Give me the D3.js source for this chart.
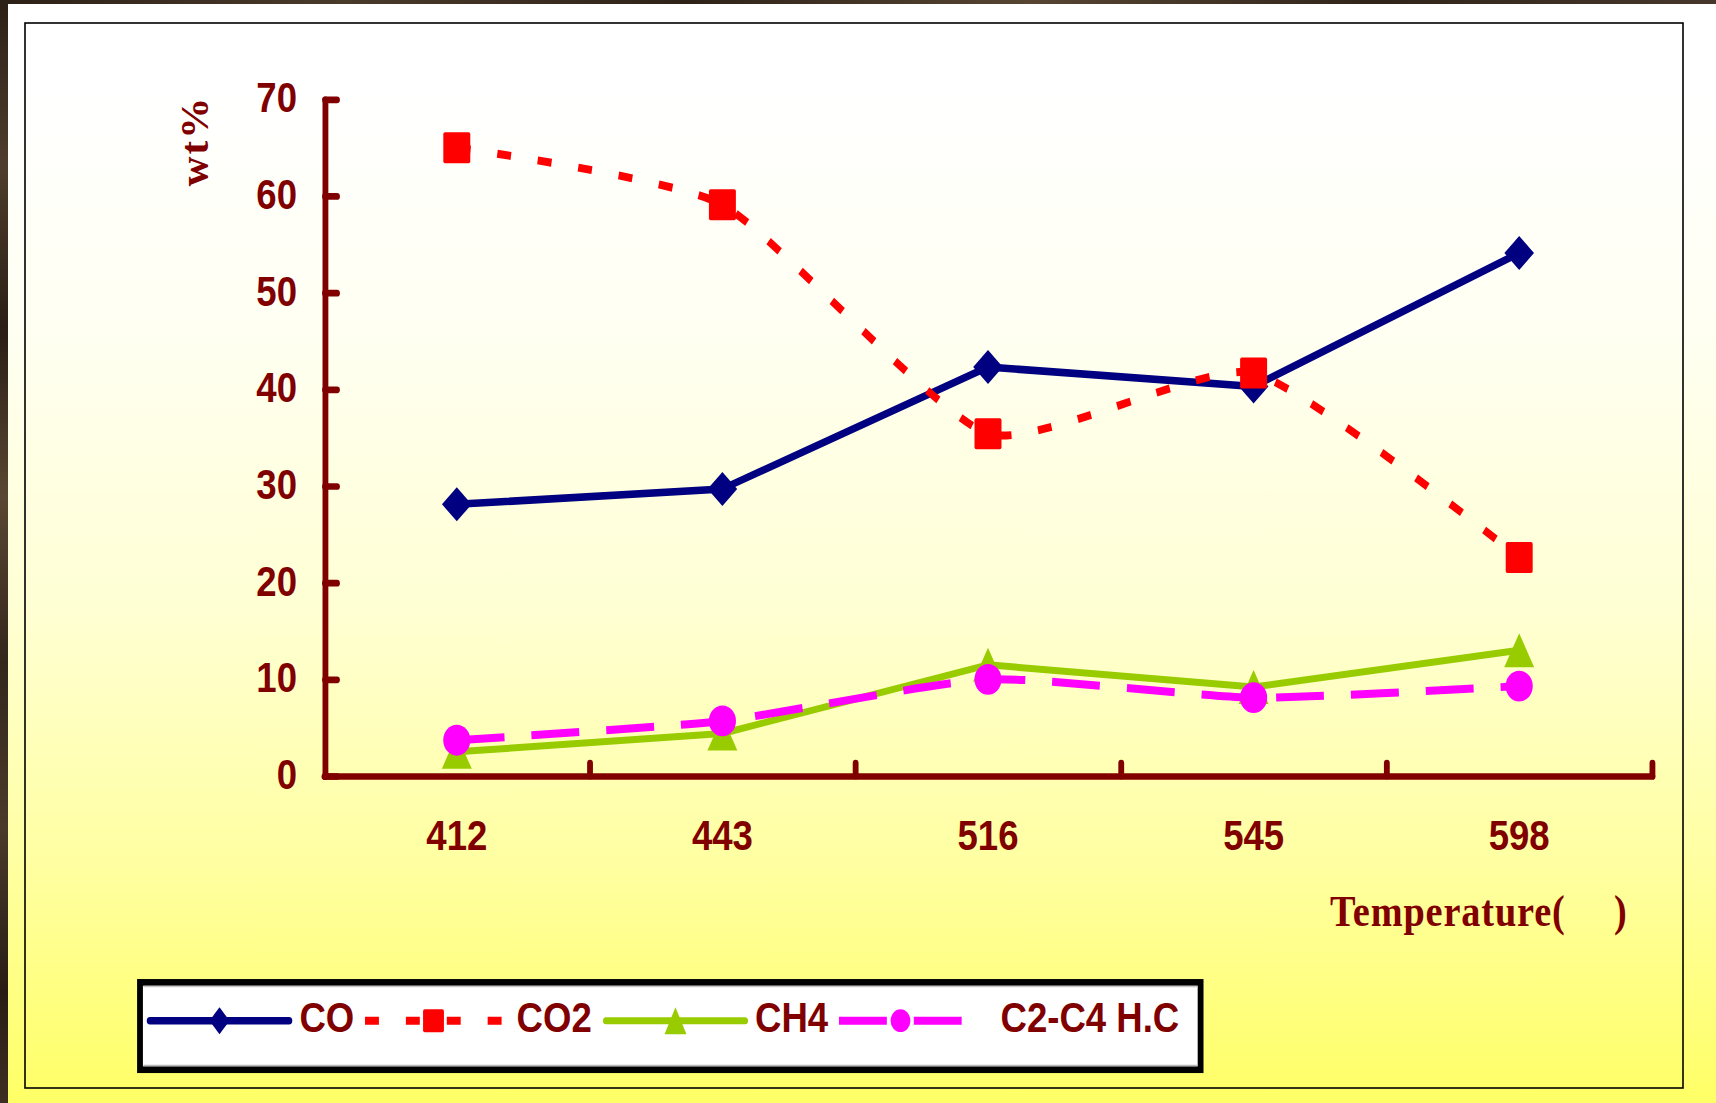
<!DOCTYPE html>
<html>
<head>
<meta charset="utf-8">
<script src="https://cdn.jsdelivr.net/npm/d3@7/dist/d3.min.js"></script>
<style>
  html, body { margin: 0; padding: 0; overflow: hidden; background: #fff; }
  svg { display: block; }
</style>
</head>
<body>
<svg id="chart" width="1716" height="1103"></svg>
<script>
// ---------------- data ----------------
const categories = ["412", "443", "516", "545", "598"];
const seriesNames = ["CO", "CO2", "CH4", "C2-C4 H.C"];
const coValues   = [28.1, 29.7, 42.3, 40.3, 54.1];
const co2Values  = [65.0, 59.1, 35.4, 41.7, 22.6];
const ch4Values  = [2.5, 4.4, 11.5, 9.2, 13.0];
const c2c4Values = [3.7, 5.7, 10.0, 8.1, 9.3];
const yTickValues = [0, 10, 20, 30, 40, 50, 60, 70];
const yAxisTitle = "wt%";
const xAxisTitle = "Temperature(";
const xAxisTitleEnd = ")";

// ---------------- layout ----------------
const SX = 0.87;                 // horizontal compression of the original picture
const vx = px => px / SX;        // screen px -> inner coordinate
const W = 1716, H = 1103;
const axisColor = "#800000";
const textColor = "#800000";
const sansBold = "Arial, 'Liberation Sans', Helvetica, sans-serif";
const serifBold = "'Times New Roman', 'Liberation Serif', serif";

const svg = d3.select("#chart");
const defs = svg.append("defs");

const bg = defs.append("linearGradient").attr("id", "bgGrad")
  .attr("x1", 0).attr("y1", 0).attr("x2", 0).attr("y2", 1);
[[0, "#ffffff"], [0.08, "#ffffff"], [0.3, "#fffff2"], [0.55, "#ffffd4"],
 [0.78, "#ffffa2"], [1, "#ffff66"]].forEach(([o, c]) =>
  bg.append("stop").attr("offset", o).attr("stop-color", c));

const wood = defs.append("linearGradient").attr("id", "woodGrad")
  .attr("x1", 0).attr("y1", 0).attr("x2", 0).attr("y2", 1);
[[0, "#2c2017"], [0.15, "#4e3d2c"], [0.3, "#2a1e15"], [0.45, "#5a4733"],
 [0.6, "#33261b"], [0.75, "#4a3a2a"], [0.9, "#281c14"], [1, "#3e2f22"]].forEach(([o, c]) =>
  wood.append("stop").attr("offset", o).attr("stop-color", c));
const woodH = defs.append("linearGradient").attr("id", "woodGradH")
  .attr("x1", 0).attr("y1", 0).attr("x2", 1).attr("y2", 0);
[[0, "#2c2017"], [0.2, "#4a3a2a"], [0.4, "#2e2218"], [0.6, "#574532"],
 [0.8, "#30241a"], [1, "#46372a"]].forEach(([o, c]) =>
  woodH.append("stop").attr("offset", o).attr("stop-color", c));

// background
svg.append("rect").attr("width", W).attr("height", H).attr("fill", "url(#bgGrad)");
svg.append("rect").attr("x", 0).attr("y", 0).attr("width", W).attr("height", 4).attr("fill", "url(#woodGradH)");
svg.append("rect").attr("x", 0).attr("y", 0).attr("width", 8).attr("height", H).attr("fill", "url(#woodGrad)");
svg.append("rect").attr("x", 25).attr("y", 23).attr("width", 1683 - 25).attr("height", 1088 - 23)
  .attr("fill", "none").attr("stroke", "#000").attr("stroke-width", 1.6);

// compressed drawing group
const g = svg.append("g").attr("transform", `scale(${SX},1)`);

// scales
const x = d3.scaleBand().domain(categories).range([vx(324), vx(1652)]);
const xc = c => x(c) + x.bandwidth() / 2;
const xBound = d3.scaleLinear().domain([0, categories.length]).range([vx(324), vx(1652)]);
const y = d3.scaleLinear().domain([0, 70]).range([776, 99.3]);

// ---------------- axes ----------------
const yAxisG = g.append("g").attr("transform", `translate(${vx(325)},0)`)
  .call(d3.axisLeft(y).tickValues(yTickValues).tickSize(-vx(12)).tickSizeOuter(0).tickPadding(0));
yAxisG.select(".domain").attr("stroke", axisColor).attr("stroke-width", 6.7).attr("stroke-linecap", "round");
yAxisG.selectAll(".tick line").attr("stroke", axisColor).attr("stroke-width", 6.7).attr("stroke-linecap", "round");
yAxisG.selectAll(".tick text")
  .attr("x", -vx(28)).attr("dy", "0.3em")
  .attr("fill", textColor).attr("font-family", sansBold).attr("font-weight", "bold").attr("font-size", 42);

const xTickG = g.append("g").attr("transform", `translate(0,776)`)
  .call(d3.axisBottom(xBound).tickValues(d3.range(1, categories.length + 1))
    .tickSize(-13).tickSizeOuter(0).tickFormat(""));
xTickG.select(".domain").attr("stroke", axisColor).attr("stroke-width", 6.7).attr("stroke-linecap", "round");
xTickG.selectAll(".tick line").attr("stroke", axisColor).attr("stroke-width", 6.7).attr("stroke-linecap", "round");

const xLabG = g.append("g").attr("transform", `translate(0,850)`)
  .call(d3.axisBottom(x).tickSize(0).tickPadding(0));
xLabG.select(".domain").remove();
xLabG.selectAll(".tick text")
  .attr("y", 0).attr("dy", 0)
  .attr("fill", textColor).attr("font-family", sansBold).attr("font-weight", "bold").attr("font-size", 42);

// axis titles
svg.append("text")
  .attr("transform", `translate(208,141) rotate(-90)`)
  .attr("text-anchor", "middle")
  .attr("fill", textColor).attr("font-family", serifBold).attr("font-weight", "bold")
  .attr("font-size", 41).attr("letter-spacing", 2)
  .text(yAxisTitle);

const xt = g.append("text")
  .attr("x", vx(1330)).attr("y", 926)
  .attr("fill", textColor).attr("font-family", serifBold).attr("font-weight", "bold")
  .attr("font-size", 44).attr("letter-spacing", 1);
xt.append("tspan").text(xAxisTitle);
xt.append("tspan").attr("x", vx(1614)).text(xAxisTitleEnd);

// ---------------- series ----------------
const markerPaths = {
  diamond: (w, h) => `M0,${-h}L${w},0L0,${h}L${-w},0Z`,
  square: (w, h) => `M${-w},${-h}H${w}V${h}H${-w}Z`,
  triangle: (w, h) => `M0,${-h}L${w},${h}L${-w},${h}Z`
};

const series = [
  { name: seriesNames[0], values: coValues,   color: "#000080", dash: null,    smooth: false, marker: "diamond",  mw: 17,   mh: 17,   lw: 7.5 },
  { name: seriesNames[1], values: co2Values,  color: "#ff0000", dash: "16,31", smooth: true,  marker: "square",   mw: 15.5, mh: 15.5, lw: 8 },
  { name: seriesNames[2], values: ch4Values,  color: "#99cc00", dash: null,    smooth: false, marker: "triangle", mw: 17.2, mh: 17,   lw: 7 },
  { name: seriesNames[3], values: c2c4Values, color: "#ff00ff", dash: "55,31", smooth: true,  marker: "circle",   mw: 15.6, mh: 15.4, lw: 8 }
];

function drawMarker(sel, s, w, h) {
  if (s.marker === "circle") {
    sel.append("ellipse").attr("rx", w).attr("ry", h).attr("fill", s.color);
  } else if (s.marker === "square") {
    sel.append("rect").attr("x", -w).attr("y", -h).attr("width", 2 * w).attr("height", 2 * h)
      .attr("rx", 2).attr("fill", s.color);
  } else {
    sel.append("path").attr("d", markerPaths[s.marker](w, h)).attr("fill", s.color);
  }
}

series.forEach(s => {
  const pts = categories.map((c, i) => [xc(c), y(s.values[i])]);
  const line = d3.line().curve(s.smooth ? d3.curveCardinal.tension(0.45) : d3.curveLinear);
  g.append("path").attr("d", line(pts))
    .attr("fill", "none").attr("stroke", s.color).attr("stroke-width", s.lw)
    .attr("stroke-dasharray", s.dash).attr("stroke-linejoin", "round")
    .attr("stroke-linecap", s.dash ? "butt" : "round");
  pts.forEach(p => {
    const m = g.append("g").attr("transform", `translate(${p[0]},${p[1]})`);
    drawMarker(m, s, s.mw, s.mh);
  });
});

// ---------------- legend ----------------
const lg = g.append("g");
lg.append("rect")
  .attr("x", vx(140)).attr("y", 982.4).attr("width", vx(1060.6)).attr("height", 87.3)
  .attr("fill", "#ffffff").attr("stroke", "#000").attr("stroke-width", 6.7);
lg.append("line").attr("x1", vx(143.5)).attr("x2", vx(1197.5)).attr("y1", 986.5).attr("y2", 986.5)
  .attr("stroke", "#c8c8c8").attr("stroke-width", 1.5);
lg.append("line").attr("x1", vx(143.5)).attr("x2", vx(1197.5)).attr("y1", 1065.5).attr("y2", 1065.5)
  .attr("stroke", "#b8b8b8").attr("stroke-width", 1.5);

const legendLayout = [
  { x0: 150, x1: 289, tx: 299.5 },
  { x0: 365, x1: 502, tx: 516.6 },
  { x0: 606, x1: 745, tx: 755 },
  { x0: 839, x1: 962, tx: 1000.6 }
];
const legendMarker = { diamond: [11.5, 13.5], square: [12, 11.5], triangle: [12.6, 13.5], circle: [11.4, 11.4] };
const ly = 1020.7;
series.forEach((s, i) => {
  const L = legendLayout[i];
  lg.append("line").attr("x1", vx(L.x0)).attr("x2", vx(L.x1)).attr("y1", ly).attr("y2", ly)
    .attr("stroke", s.color).attr("stroke-width", s.lw)
    .attr("stroke-dasharray", s.dash).attr("stroke-linecap", s.dash ? "butt" : "round");
  const m = lg.append("g").attr("transform", `translate(${vx((L.x0 + L.x1) / 2)},${ly})`);
  const [mw, mh] = legendMarker[s.marker];
  drawMarker(m, s, mw, mh);
  lg.append("text").attr("x", vx(L.tx)).attr("y", 1032)
    .attr("fill", textColor).attr("font-family", sansBold).attr("font-weight", "bold").attr("font-size", 42)
    .text(s.name);
});
</script>
</body>
</html>
